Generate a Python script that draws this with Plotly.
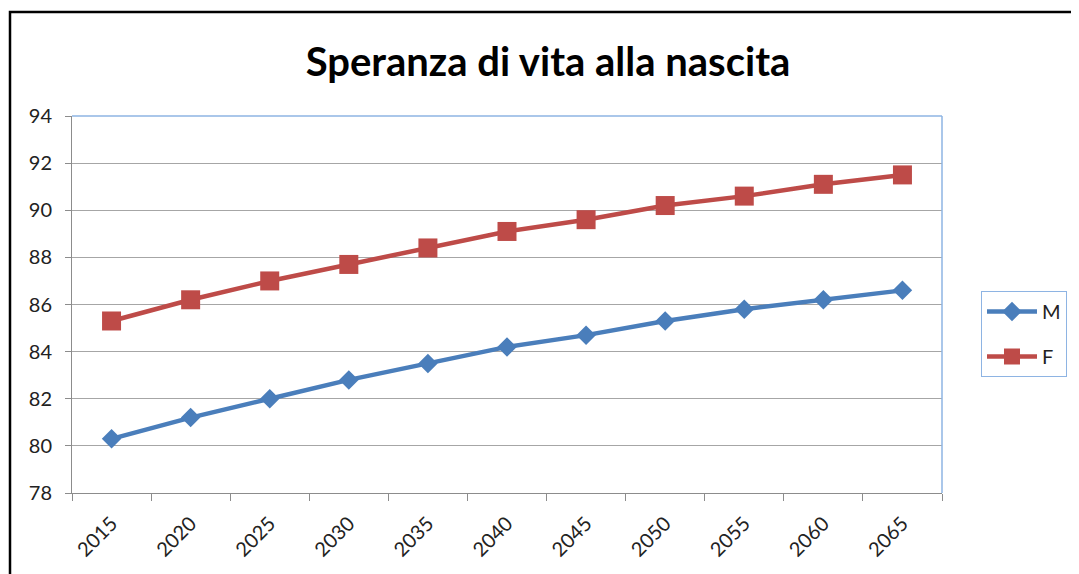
import plotly.graph_objects as go

years = ["2015", "2020", "2025", "2030", "2035", "2040", "2045", "2050", "2055", "2060", "2065"]
m_values = [80.3, 81.2, 82.0, 82.8, 83.5, 84.2, 84.7, 85.3, 85.8, 86.2, 86.6]
f_values = [85.3, 86.2, 87.0, 87.7, 88.4, 89.1, 89.6, 90.2, 90.6, 91.1, 91.5]
y_ticks = [78, 80, 82, 84, 86, 88, 90, 92, 94]

FONT = "Lato"
OFF = 8  # page body margin

fig = go.Figure()
fig.add_trace(go.Scatter(
    x=years, y=m_values, name="M", mode="lines+markers",
    line=dict(color="#4A7EBB", width=4.5),
    marker=dict(symbol="diamond", size=15, color="#4A7EBB"),
    legendgroup="m",
))
fig.add_trace(go.Scatter(
    x=years, y=f_values, name="F", mode="lines+markers",
    line=dict(color="#BE4B48", width=4.5),
    marker=dict(symbol="square", size=19, color="#BE4B48"),
    legendgroup="f",
))

W, H = 1079 - OFF, 574 - OFF
L, T = 72 - OFF, 116 - OFF
PW, PH = 870, 377
R = W - L - PW
B = H - T - PH

fig.update_layout(
    width=W, height=H,
    margin=dict(l=L, r=R, t=T, b=B, autoexpand=False),
    paper_bgcolor="white", plot_bgcolor="white",
    font=dict(family=FONT, size=20, color="#222222"),
    title=dict(
        text="<b>Speranza di vita alla nascita</b>",
        x=(548 - OFF) / W, xanchor="center", y=1 - (62 - OFF) / H, yanchor="middle",
        font=dict(family=FONT, size=40, color="black"),
    ),
    xaxis=dict(
        type="category", tickangle=-45, range=[-0.5, len(years) - 0.5],
        showline=True, linecolor="#8C8C8C", linewidth=1,
        ticks="outside", ticklen=7, tickcolor="#8C8C8C",
        tickson="boundaries", showgrid=False, ticklabelstandoff=10,
        tickfont=dict(family=FONT, size=20, color="#222222"),
    ),
    yaxis=dict(
        range=[78, 94], tickvals=y_ticks,
        showline=True, linecolor="#8C8C8C", linewidth=1,
        ticks="outside", ticklen=6, tickcolor="#8C8C8C",
        showgrid=True, gridcolor="#A6A6A6", gridwidth=1,
        zeroline=False, ticklabelstandoff=9,
        tickfont=dict(family=FONT, size=20, color="#222222"),
    ),
    legend=dict(
        x=(981 - 72) / PW, xanchor="left", y=(493 - 291) / PH, yanchor="top",
        bordercolor="#8EB4E3", borderwidth=1, bgcolor="white",
        font=dict(family=FONT, size=20, color="#222222"),
        tracegroupgap=16, traceorder="grouped",
        itemwidth=50,
    ),
    showlegend=True,
)

# plot-area border (top and right, light blue)
fig.add_shape(type="line", xref="paper", yref="paper", x0=0, x1=1, y0=1, y1=1,
              line=dict(color="#8EB4E3", width=1.5), layer="above")
fig.add_shape(type="line", xref="paper", yref="paper", x0=1, x1=1, y0=0, y1=1,
              line=dict(color="#8EB4E3", width=1.5), layer="above")
# chart outer border (black)
fig.add_shape(type="rect", xref="paper", yref="paper",
              x0=(10 - 72) / PW, x1=(1095 - 72) / PW,
              y0=(493 - 600) / PH, y1=(493 - 12) / PH,
              line=dict(color="black", width=2.5), layer="above")

fig.write_html("out.html")
